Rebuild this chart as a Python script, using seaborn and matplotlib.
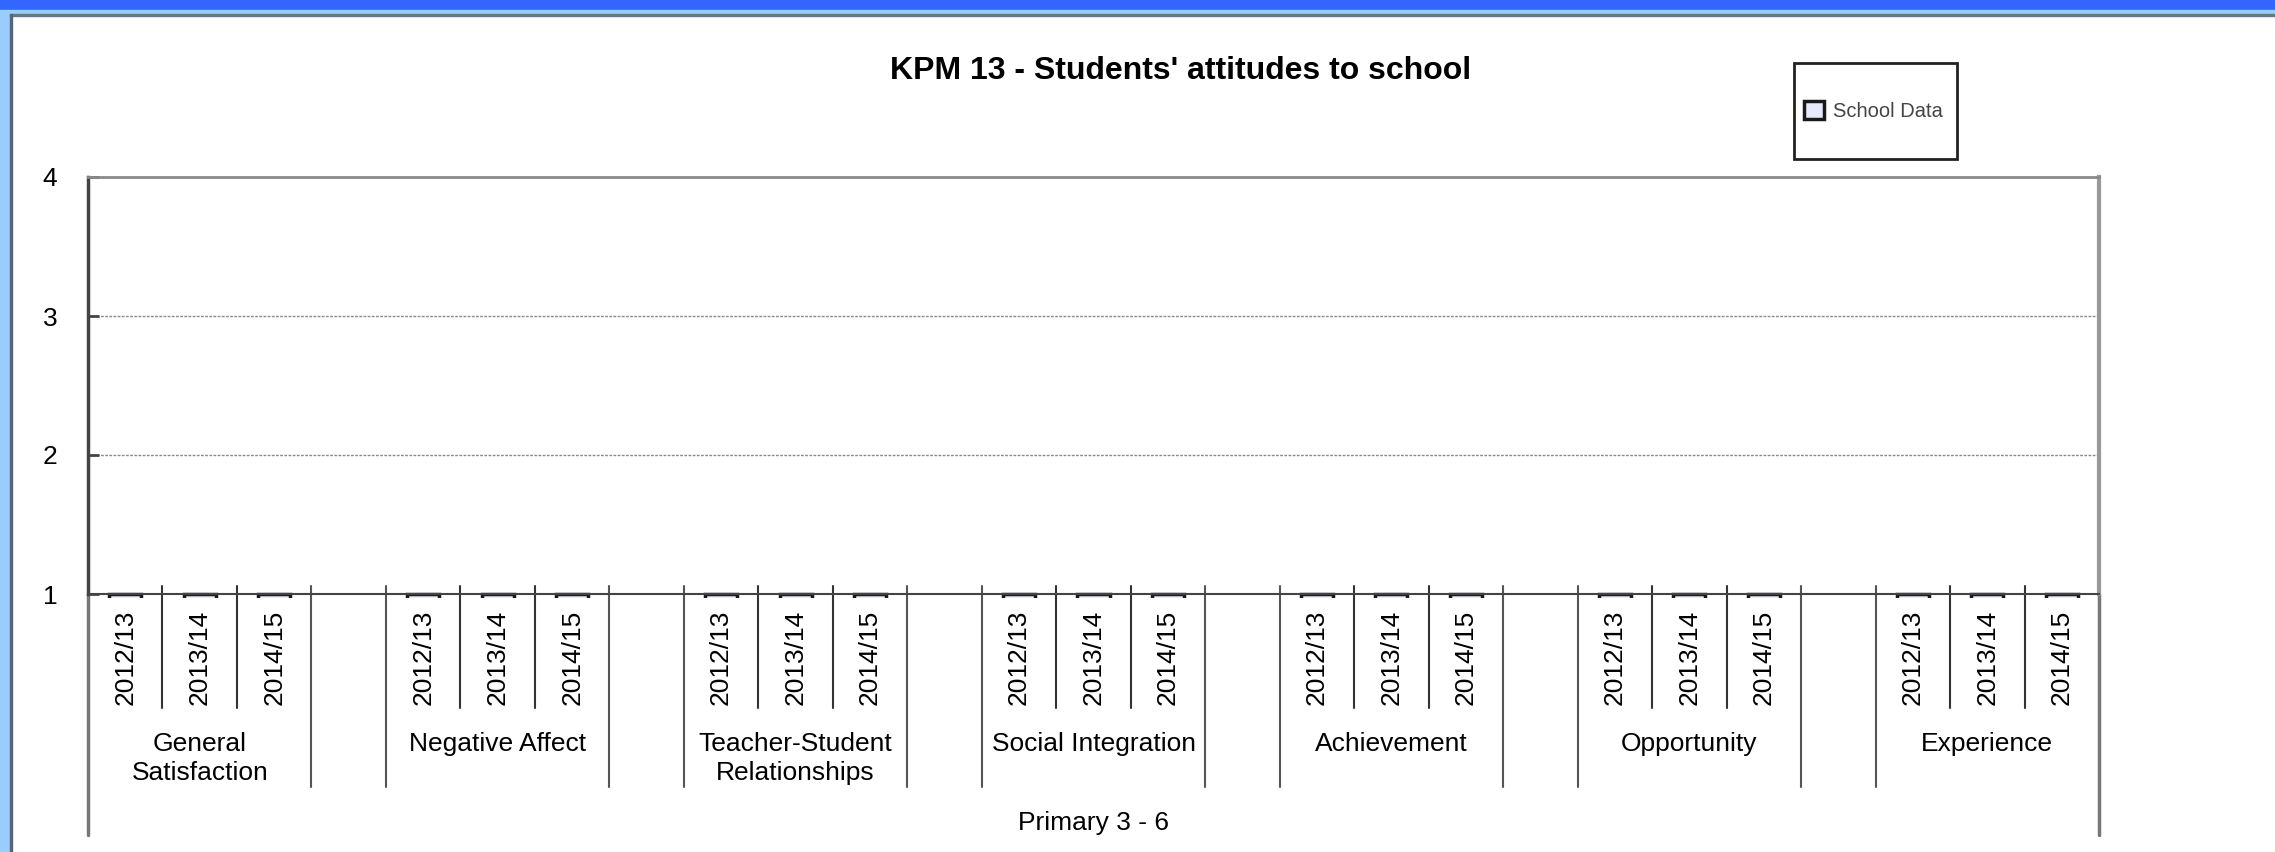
import pandas as pd
import seaborn as sns
import matplotlib.pyplot as plt
from matplotlib.patches import Rectangle

# Categories and values
groups = ["General\nSatisfaction", "Negative Affect", "Teacher-Student\nRelationships",
          "Social Integration", "Achievement", "Opportunity", "Experience"]
years = ["2012/13", "2013/14", "2014/15"]
# every School Data bar sits on the axis floor (value 1)
school_data = [1.0, 1.0, 1.0,
               1.0, 1.0, 1.0,
               1.0, 1.0, 1.0,
               1.0, 1.0, 1.0,
               1.0, 1.0, 1.0,
               1.0, 1.0, 1.0,
               1.0, 1.0, 1.0]
y_ticks = [1, 2, 3, 4]
stage_label = "Primary 3 - 6"
title = "KPM 13 - Students' attitudes to school"
series_name = "School Data"

# one slot per bar, an empty slot between groups
rows = []
order = []
for gi, g in enumerate(groups):
    for yi, y in enumerate(years):
        key = f"{g}|{y}"
        rows.append({"slot": key, "value": school_data[gi * 3 + yi], "series": series_name})
        order.append(key)
    if gi < len(groups) - 1:
        order.append(" " * (gi + 1))
df = pd.DataFrame(rows)

sns.set_style("white")
plt.rcParams["font.family"] = ["Liberation Sans", "DejaVu Sans"]
plt.rcParams["text.color"] = "black"
plt.rcParams["xtick.color"] = "black"
plt.rcParams["ytick.color"] = "black"

W, H = 2275, 852
fig = plt.figure(figsize=(W / 100, H / 100), dpi=100)

# window frame (blue bars and grey edge)
fig.patches.append(Rectangle((0, 1 - 10 / H), 1, 10 / H, transform=fig.transFigure,
                             color="#3366ff", zorder=0))
fig.patches.append(Rectangle((0, 1 - 14 / H), 1, 4 / H, transform=fig.transFigure,
                             color="#99ccff", zorder=0))
fig.patches.append(Rectangle((0, 0), 10 / W, 1 - 14 / H, transform=fig.transFigure,
                             color="#99ccff", zorder=0))
fig.patches.append(Rectangle((10 / W, 1 - 16 / H), 1, 2 / H, transform=fig.transFigure,
                             color="#66778a", zorder=1))
fig.patches.append(Rectangle((10 / W, 0), 2 / W, 1 - 14 / H, transform=fig.transFigure,
                             color="#55667a", zorder=1))

ax = fig.add_axes([88 / W, 1 - 594 / H, (2099 - 88) / W, (594 - 177) / H])

sns.barplot(data=df, x="slot", y="value", hue="series", order=order, ax=ax,
            width=0.43, dodge=False, palette=["#e6e6ff"], edgecolor="#1a1a1a",
            linewidth=2.5)
handles, labels = ax.get_legend_handles_labels()
if ax.get_legend() is not None:
    ax.get_legend().remove()

# let the bar outlines show a few pixels under the axis floor, as in the original
clip = Rectangle((0, -0.009), 1, 1.009, transform=ax.transAxes)
for p in ax.patches:
    p.set_clip_path(clip)

ax.set_xlim(-0.5, len(order) - 0.5)
ax.set_ylim(y_ticks[0], y_ticks[-1])
ax.set_yticks(y_ticks)
ax.set_xlabel("")
ax.set_ylabel("")

tick_labels = [s.split("|")[1] if "|" in s else "" for s in order]
ax.set_xticks(range(len(order)))
ax.set_xticklabels(tick_labels, rotation=90, fontsize=19)
ax.tick_params(axis="x", length=0, pad=11.5, labelcolor="black")
ax.tick_params(axis="y", direction="in", length=8, width=2, color="#444444",
               pad=22, labelsize=19, left=True, labelcolor="black")

ax.yaxis.grid(True, color="#8a8a8a", linestyle=(0, (2, 1)), linewidth=1)
ax.set_axisbelow(True)

for side, col, lw in [("left", "#444444", 2.5), ("top", "#8a8a8a", 2),
                      ("right", "#999999", 3), ("bottom", "#444444", 1.5)]:
    ax.spines[side].set_visible(True)
    ax.spines[side].set_color(col)
    ax.spines[side].set_linewidth(lw)

# multi-level category separators below the axis
trans = ax.get_xaxis_transform()
n = len(order)
for i in range(n + 1):
    x = i - 0.5
    left = order[i - 1] if i > 0 else None
    right = order[i] if i < n else None
    if left is None or right is None:
        ax.plot([x, x], [0, -0.578], transform=trans, clip_on=False,
                color="#777777", lw=2.5)
    elif "|" in left and "|" in right:
        ax.plot([x, x], [0.019, -0.273], transform=trans, clip_on=False,
                color="#333333", lw=1.5)
    else:
        ax.plot([x, x], [0.019, -0.463], transform=trans, clip_on=False,
                color="#555555", lw=1.5)

for gi, g in enumerate(groups):
    centre = order.index(f"{g}|{years[1]}")
    ax.text(centre, -0.33, g, transform=trans, ha="center", va="top",
            fontsize=19, linespacing=1.3)

ax.text((n - 1) / 2, -0.549, stage_label, transform=trans, ha="center",
        va="center", fontsize=19)

fig.text(1181 / W, 1 - 71 / H, title, ha="center", va="center",
         fontsize=23, fontweight="bold")

# legend box
fig.patches.append(Rectangle((1794 / W, 1 - 159 / H), (1957 - 1794) / W, 96 / H,
                             transform=fig.transFigure, fill=False,
                             edgecolor="#222222", linewidth=2, zorder=3))
fig.legend(handles, labels, loc="center left",
           bbox_to_anchor=(1804 / W, 1 - 111 / H), frameon=False,
           borderpad=0, borderaxespad=0, handlelength=1.0, handleheight=1.0,
           handletextpad=0.45, prop={"size": 14.5}, labelcolor="#444444")

fig.savefig("out.png", dpi=100)
